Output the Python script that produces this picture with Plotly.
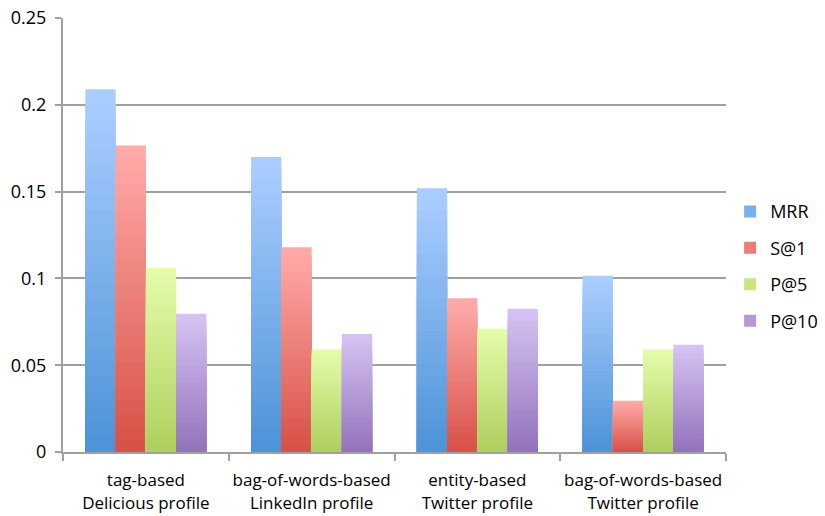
import plotly.graph_objects as go

categories = ["tag-based<br>Delicious profile", "bag-of-words-based<br>LinkedIn profile",
              "entity-based<br>Twitter profile", "bag-of-words-based<br>Twitter profile"]
series_names = ["MRR", "S@1", "P@5", "P@10"]
mrr = [0.209, 0.170, 0.152, 0.1015]
s1 = [0.1765, 0.118, 0.0885, 0.0295]
p5 = [0.106, 0.059, 0.071, 0.059]
p10 = [0.0797, 0.068, 0.0825, 0.0618]
y_ticks = [0, 0.05, 0.1, 0.15, 0.2, 0.25]
y_tick_labels = ["0", "0.05", "0.1", "0.15", "0.2", "0.25"]

series_values = [mrr, s1, p5, p10]
top_colors = [(170, 205, 255), (255, 170, 168), (228, 252, 170), (214, 194, 242)]
bottom_colors = [(78, 148, 216), (216, 82, 72), (174, 208, 94), (148, 116, 188)]

N = 24

def lerp(a, b, t):
    return "rgb(%d,%d,%d)" % tuple(round(a[i] + (b[i] - a[i]) * t) for i in range(3))

fig = go.Figure()
for si, (name, vals) in enumerate(zip(series_names, series_values)):
    for k in range(N):
        frac = 1 - k / N
        fig.add_trace(go.Bar(
            x=categories, y=[v * frac for v in vals],
            name=name, offsetgroup=str(si), legendgroup=name,
            showlegend=(k == N // 2),
            marker=dict(color=lerp(top_colors[si], bottom_colors[si], k / (N - 1)), line=dict(width=0)),
            hoverinfo="skip" if k else "y",
        ))

fig.update_layout(
    width=825, height=516,
    margin=dict(l=63, r=99, t=18, b=64, autoexpand=False),
    plot_bgcolor="white", paper_bgcolor="white",
    barmode="group", bargap=0.27, bargroupgap=0,
    font=dict(family="Open Sans, Liberation Sans, sans-serif", size=17, color="black"),
    legend=dict(xref="container", yref="container", x=0.885, y=0.484,
                xanchor="left", yanchor="middle",
                font=dict(size=18), tracegroupgap=10, itemwidth=30),
    showlegend=True,
)
fig.update_xaxes(showline=True, linecolor="#a0a0a0", linewidth=2, automargin=False, tickangle=0,
                 ticks="outside", tickson="boundaries", ticklen=7, tickcolor="#a0a0a0", tickwidth=2,
                 showgrid=False, tickfont=dict(size=17), ticklabelstandoff=12)
fig.update_yaxes(range=[0, 0.25], tickvals=y_ticks, ticktext=y_tick_labels, automargin=False,
                 showline=True, linecolor="#a0a0a0", linewidth=2,
                 ticks="outside", ticklen=6, tickcolor="#a0a0a0", tickwidth=2,
                 showgrid=True, gridcolor="#a0a0a0", gridwidth=1.5, zeroline=False,
                 tickfont=dict(size=18), ticklabelstandoff=5)

fig.write_html("out.html")
